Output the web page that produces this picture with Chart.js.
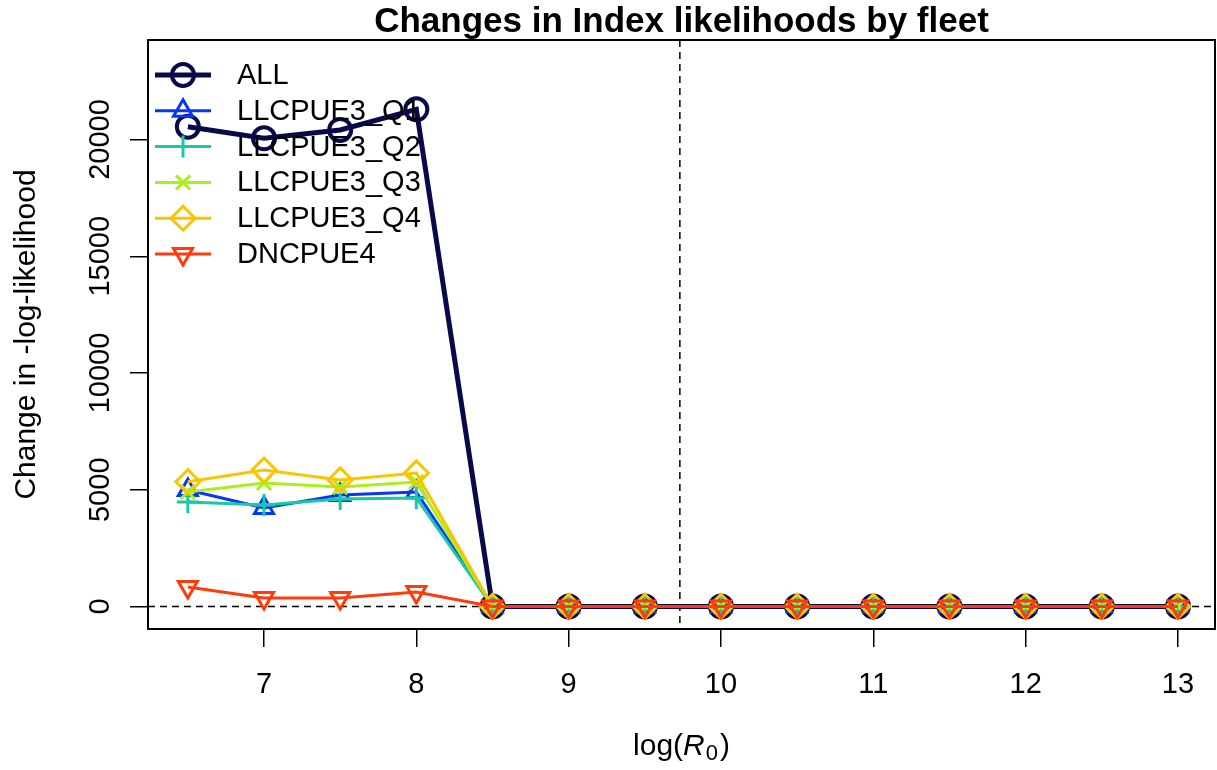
<!DOCTYPE html>
<html>
<head>
<meta charset="utf-8">
<title>Changes in Index likelihoods by fleet</title>
<script src="https://cdn.jsdelivr.net/npm/chart.js"></script>
<style>
  body { margin: 0; background: #fff; }
  canvas { display: block; }
</style>
</head>
<body>
<canvas id="fleetChart" width="1217" height="770"></canvas>
<script>
// log(R0) profile values
var logR0 = [6.5, 7, 7.5, 8, 8.5, 9, 9.5, 10, 10.5, 11, 11.5, 12, 12.5, 13];

// change in -log-likelihood per fleet
var allFleets = [20550, 20053, 20409, 21295, 0, 0, 0, 0, 0, 0, 0, 0, 0, 0];
var llcpueQ1  = [4990, 4219, 4776, 4904, 0, 0, 0, 0, 0, 0, 0, 0, 0, 0];
var llcpueQ2  = [4476, 4347, 4604, 4647, 0, 0, 0, 0, 0, 0, 0, 0, 0, 0];
var llcpueQ3  = [4904, 5290, 5118, 5332, 0, 0, 0, 0, 0, 0, 0, 0, 0, 0];
var llcpueQ4  = [5345, 5846, 5418, 5718, 0, 0, 0, 0, 0, 0, 0, 0, 0, 0];
var dncpue4   = [835, 364, 364, 621, 0, 0, 0, 0, 0, 0, 0, 0, 0, 0];

var xTicks = [7, 8, 9, 10, 11, 12, 13];
var yTicks = [0, 5000, 10000, 15000, 20000];
var mleLogR0 = 9.73;   // vertical reference line

var FONT = '"Liberation Sans", Arial, sans-serif';

function toPoints(vals) {
    return vals.map(function (v, i) { return { x: logR0[i], y: v }; });
}

function series(label, vals, color, style, opts) {
    opts = opts || {};
    return {
        label: label,
        data: toPoints(vals),
        borderColor: color,
        backgroundColor: 'rgba(0,0,0,0)',
        borderWidth: opts.lineWidth || 3,
        pointStyle: style,
        pointRotation: opts.rotation || 0,
        pointRadius: opts.radius || 10,
        pointBorderWidth: opts.pointWidth || 3,
        pointBorderColor: color,
        pointBackgroundColor: 'rgba(0,0,0,0)',
        tension: 0,
        order: opts.order
    };
}

var datasets = [
    series('ALL', allFleets, '#0a0a4a', 'circle', { lineWidth: 5, radius: 11, pointWidth: 4, order: 5 }),
    series('LLCPUE3_Q1', llcpueQ1, '#0636f8', 'triangle', { radius: 11, order: 4 }),
    series('LLCPUE3_Q2', llcpueQ2, '#17c9a6', 'cross', { radius: 11, order: 3 }),
    series('LLCPUE3_Q3', llcpueQ3, '#a8f01c', 'crossRot', { radius: 10, order: 2 }),
    series('LLCPUE3_Q4', llcpueQ4, '#fbc400', 'rectRot', { radius: 12, order: 1 }),
    series('DNCPUE4', dncpue4, '#ff3b0c', 'triangle', { radius: 11, rotation: 180, order: 0 })
];

// box, reference lines, rotated y labels, titles and legend
var decorations = {
    id: 'decorations',
    beforeDatasetsDraw: function (chart) {
        var ctx = chart.ctx, a = chart.chartArea;
        var xs = chart.scales.x, ys = chart.scales.y;
        ctx.save();
        ctx.strokeStyle = '#000';
        ctx.lineWidth = 1.5;
        ctx.setLineDash([7, 5]);
        var y0 = ys.getPixelForValue(0);
        ctx.beginPath();
        ctx.moveTo(a.left, y0);
        ctx.lineTo(a.right, y0);
        var xv = xs.getPixelForValue(mleLogR0);
        ctx.moveTo(xv, a.top);
        ctx.lineTo(xv, a.bottom);
        ctx.stroke();
        ctx.restore();
    },
    afterDatasetsDraw: function (chart) {
        var ctx = chart.ctx, a = chart.chartArea;
        var xs = chart.scales.x, ys = chart.scales.y;
        ctx.save();

        // plot box
        ctx.strokeStyle = '#000';
        ctx.lineWidth = 2;
        ctx.strokeRect(a.left, a.top, a.right - a.left, a.bottom - a.top);

        ctx.fillStyle = '#000';
        ctx.textAlign = 'center';
        ctx.textBaseline = 'middle';

        // x tick labels
        ctx.font = '29px ' + FONT;
        xTicks.forEach(function (v) {
            ctx.fillText(String(v), xs.getPixelForValue(v), 685);
        });

        // y tick labels, written vertically
        yTicks.forEach(function (v) {
            ctx.save();
            ctx.translate(101, ys.getPixelForValue(v));
            ctx.rotate(-Math.PI / 2);
            ctx.fillText(String(v), 0, 0);
            ctx.restore();
        });

        // y axis title
        ctx.font = '30px ' + FONT;
        ctx.save();
        ctx.translate(27, (a.top + a.bottom) / 2);
        ctx.rotate(-Math.PI / 2);
        ctx.fillText('Change in -log-likelihood', 0, 0);
        ctx.restore();

        // x axis title: log(R0) with italic R and subscript 0
        var cx = (a.left + a.right) / 2, ty = 747;
        ctx.textAlign = 'left';
        var p1 = 'log(', p3 = ')';
        ctx.font = '30px ' + FONT;
        var w1 = ctx.measureText(p1).width, w3 = ctx.measureText(p3).width;
        ctx.font = 'italic 30px ' + FONT;
        var w2 = ctx.measureText('R').width;
        ctx.font = '22px ' + FONT;
        var w0 = ctx.measureText('0').width + 3;
        var sx = cx - (w1 + w2 + w0 + w3) / 2;
        ctx.font = '30px ' + FONT;
        ctx.fillText(p1, sx, ty);
        ctx.font = 'italic 30px ' + FONT;
        ctx.fillText('R', sx + w1, ty);
        ctx.font = '22px ' + FONT;
        ctx.fillText('0', sx + w1 + w2 + 1, ty + 7);
        ctx.font = '30px ' + FONT;
        ctx.fillText(p3, sx + w1 + w2 + w0, ty);

        // main title
        ctx.textAlign = 'center';
        ctx.font = 'bold 35px ' + FONT;
        ctx.fillText('Changes in Index likelihoods by fleet', cx, 22);

        // legend, top left inside the plot
        ctx.textAlign = 'left';
        ctx.font = '29px ' + FONT;
        chart.data.datasets.forEach(function (ds, i) {
            var ry = 75 + i * 35.8;
            ctx.strokeStyle = ds.borderColor;
            ctx.lineWidth = ds.borderWidth;
            ctx.setLineDash([]);
            ctx.beginPath();
            ctx.moveTo(155, ry);
            ctx.lineTo(211, ry);
            ctx.stroke();
            ctx.fillStyle = 'rgba(0,0,0,0)';
            ctx.lineWidth = ds.pointBorderWidth;
            Chart.helpers.drawPoint(ctx, {
                pointStyle: ds.pointStyle,
                rotation: ds.pointRotation,
                radius: ds.pointRadius,
                borderWidth: ds.pointBorderWidth
            }, 183, ry);
            ctx.fillStyle = '#000';
            ctx.fillText(ds.label, 237, ry + 1);
        });

        ctx.restore();
    }
};

var ctx = document.getElementById('fleetChart').getContext('2d');
var fleetChart = new Chart(ctx, {
    type: 'line',
    data: { datasets: datasets },
    options: {
        responsive: false,
        animation: false,
        layout: {
            autoPadding: false,
            padding: { top: 40, right: 2, left: 0, bottom: 0 }
        },
        plugins: {
            legend: { display: false },
            title: { display: false },
            tooltip: { enabled: false }
        },
        scales: {
            x: {
                type: 'linear',
                min: 6.2385,
                max: 13.243,
                afterBuildTicks: function (scale) {
                    scale.ticks = xTicks.map(function (v) { return { value: v }; });
                },
                afterFit: function (scale) {
                    scale.height = 141;
                    scale.paddingLeft = 0;
                    scale.paddingRight = 0;
                },
                ticks: { display: false },
                border: { display: false },
                grid: {
                    drawOnChartArea: false,
                    drawTicks: true,
                    tickLength: 18,
                    color: '#000',
                    lineWidth: 1.5
                }
            },
            y: {
                type: 'linear',
                min: -964,
                max: 24263,
                afterBuildTicks: function (scale) {
                    scale.ticks = yTicks.map(function (v) { return { value: v }; });
                },
                afterFit: function (scale) {
                    scale.width = 148;
                    scale.paddingTop = 0;
                    scale.paddingBottom = 0;
                },
                ticks: { display: false },
                border: { display: false },
                grid: {
                    drawOnChartArea: false,
                    drawTicks: true,
                    tickLength: 18,
                    color: '#000',
                    lineWidth: 1.5
                }
            }
        }
    },
    plugins: [decorations]
});
</script>
</body>
</html>
